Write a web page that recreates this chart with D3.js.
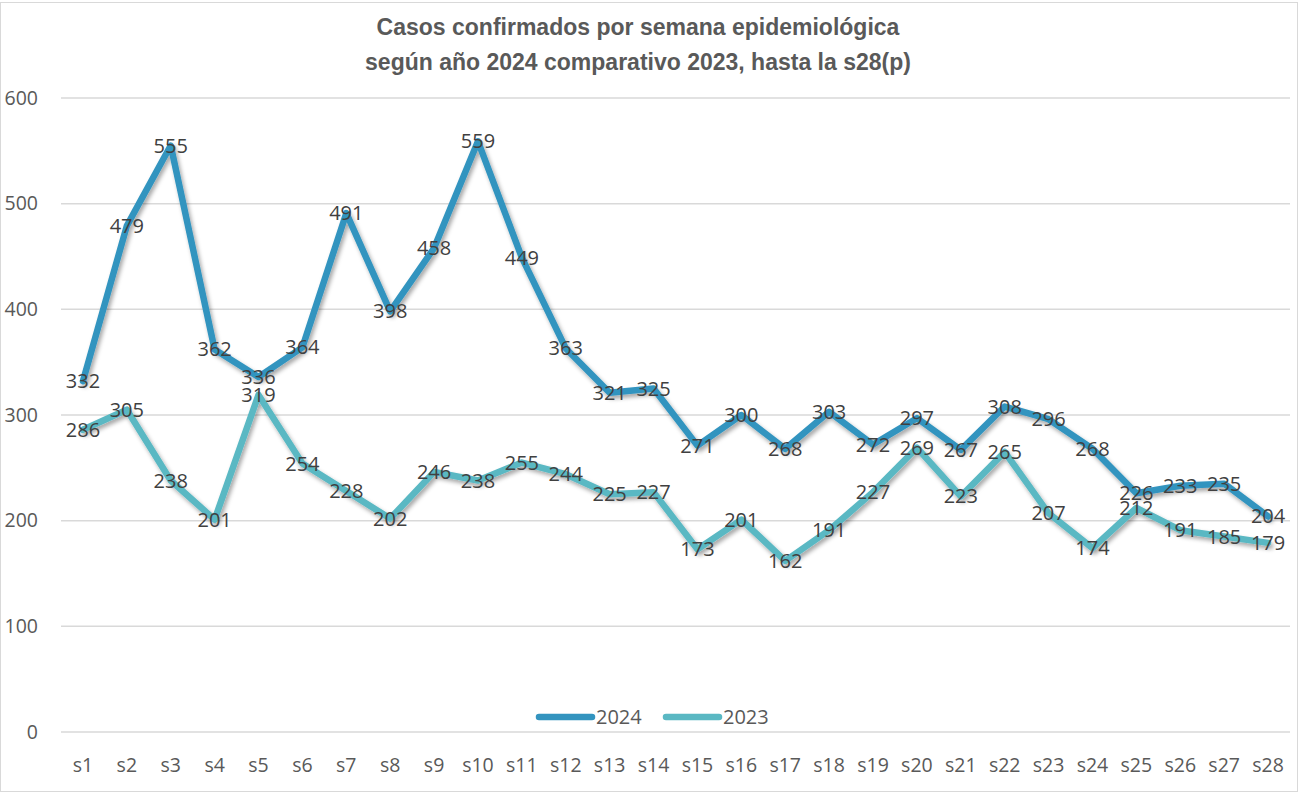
<!doctype html>
<html>
<head>
    <meta http-equiv="Content-type" content="text/html; charset=utf-8"/>
    <script src="https://d3js.org/d3.v7.min.js"></script>
    <style>
        body { margin: 0; background: #fff; }
        text { font-family: "Open Sans", "Noto Sans", sans-serif; }
        .title { font-family: "Liberation Sans Narrow", "Arial Narrow", "Liberation Sans", sans-serif; font-weight: bold; font-size: 23px; fill: #595959; }
    </style>
</head>
<body>
    <svg width="1300" height="793"></svg>
    <script>
        var weeks = ["s1","s2","s3","s4","s5","s6","s7","s8","s9","s10","s11","s12","s13","s14",
                     "s15","s16","s17","s18","s19","s20","s21","s22","s23","s24","s25","s26","s27","s28"];
        var cases2024 = [332,479,555,362,336,364,491,398,458,559,449,363,321,325,
                         271,300,268,303,272,297,267,308,296,268,226,233,235,204];
        var cases2023 = [286,305,238,201,319,254,228,202,246,238,255,244,225,227,
                         173,201,162,191,227,269,223,265,207,174,212,191,185,179];
        var yTicks = [0,100,200,300,400,500,600];

        var series = [
            {name: "2024", values: cases2024, color: "#3394BF"},
            {name: "2023", values: cases2023, color: "#5AB8C3"}
        ];

        var svg = d3.select("svg");

        // chart border
        svg.append("rect")
            .attr("x", 0.5).attr("y", 2.5)
            .attr("width", 1297).attr("height", 789)
            .attr("fill", "none").attr("stroke", "#d9d9d9");

        var defs = svg.append("defs");
        var f = defs.append("filter").attr("id", "shadow")
            .attr("x", "-5%").attr("y", "-5%").attr("width", "110%").attr("height", "110%");
        f.append("feDropShadow").attr("dx", 2).attr("dy", 3).attr("stdDeviation", 2)
            .attr("flood-color", "#000").attr("flood-opacity", 0.35);

        var x = d3.scaleBand().domain(weeks).range([61, 1290]);
        var y = d3.scaleLinear().domain([0, 600]).range([732, 98]);

        // title
        svg.append("text").attr("class", "title")
            .attr("x", 638).attr("y", 35).attr("text-anchor", "middle")
            .text("Casos confirmados por semana epidemiológica");
        svg.append("text").attr("class", "title")
            .attr("x", 638).attr("y", 70).attr("text-anchor", "middle")
            .text("según año 2024 comparativo 2023, hasta la s28(p)");

        // gridlines
        svg.append("g").selectAll("line")
            .data(yTicks)
            .enter().append("line")
            .attr("x1", 61).attr("x2", 1290)
            .attr("y1", function(d) { return y(d); })
            .attr("y2", function(d) { return y(d); })
            .attr("stroke", "#d9d9d9").attr("stroke-width", 1.5);

        // y tick labels
        svg.append("g").selectAll("text")
            .data(yTicks)
            .enter().append("text")
            .attr("x", 38).attr("y", function(d) { return y(d); })
            .attr("dy", "0.35em").attr("text-anchor", "end")
            .attr("font-size", 19.5).attr("fill", "#595959")
            .text(function(d) { return d; });

        // x tick labels
        svg.append("g").selectAll("text")
            .data(weeks)
            .enter().append("text")
            .attr("x", function(d) { return x(d) + x.bandwidth() / 2; })
            .attr("y", 772).attr("text-anchor", "middle")
            .attr("font-size", 19.5).attr("fill", "#595959")
            .text(function(d) { return d; });

        var line = d3.line()
            .x(function(d, i) { return x(weeks[i]) + x.bandwidth() / 2; })
            .y(function(d) { return y(d); });

        svg.append("g").selectAll("path")
            .data(series)
            .enter().append("path")
            .attr("d", function(s) { return line(s.values); })
            .attr("fill", "none")
            .attr("stroke", function(s) { return s.color; })
            .attr("stroke-width", 6.5)
            .attr("stroke-linejoin", "round")
            .attr("stroke-linecap", "round")
            .attr("filter", "url(#shadow)");

        // data labels
        series.forEach(function(s) {
            svg.append("g").selectAll("text")
                .data(s.values)
                .enter().append("text")
                .attr("x", function(d, i) { return x(weeks[i]) + x.bandwidth() / 2; })
                .attr("y", function(d) { return y(d); })
                .attr("dy", "0.35em").attr("text-anchor", "middle")
                .attr("font-size", 20).attr("fill", "#404040")
                .text(function(d) { return d; });
        });

        // legend
        var legend = svg.append("g");
        var legX = [539, 666];
        series.forEach(function(s, i) {
            legend.append("line")
                .attr("x1", legX[i]).attr("x2", legX[i] + 53)
                .attr("y1", 717).attr("y2", 717)
                .attr("stroke", s.color).attr("stroke-width", 6.5)
                .attr("stroke-linecap", "round");
            legend.append("text")
                .attr("x", legX[i] + 57).attr("y", 717).attr("dy", "0.35em")
                .attr("font-size", 20).attr("fill", "#595959")
                .text(s.name);
        });
    </script>
</body>
</html>
